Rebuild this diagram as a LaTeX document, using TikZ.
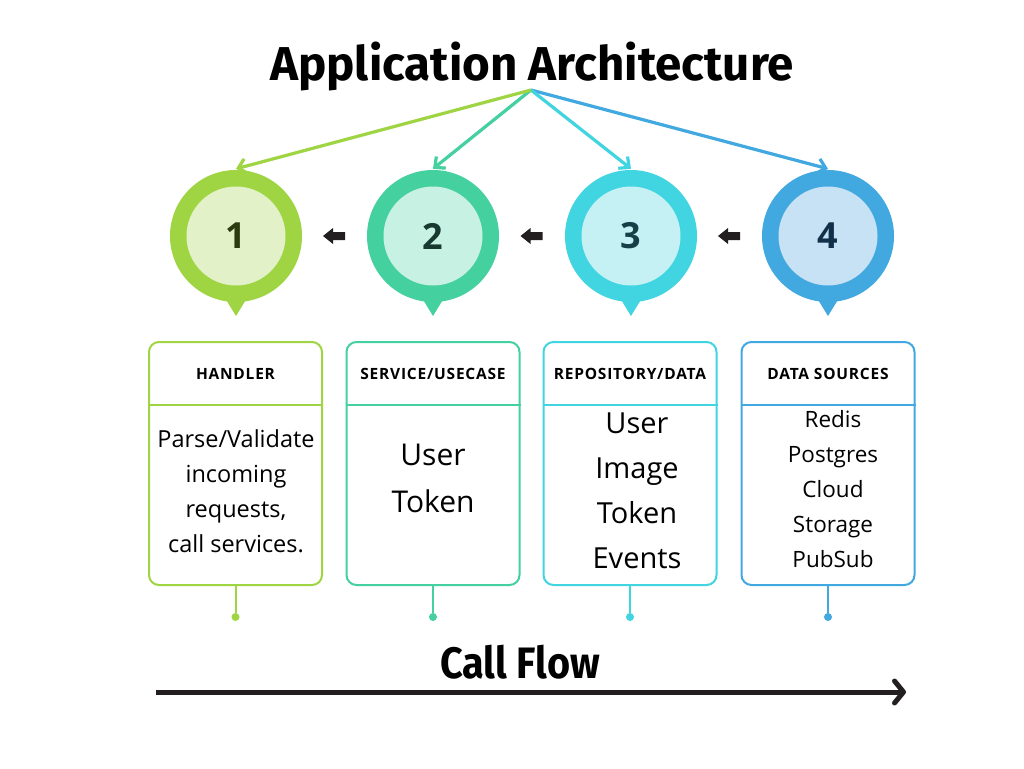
\documentclass[tikz,border=0pt]{standalone}
\usepackage{fontspec}
\setmainfont{Open Sans}
\newfontfamily\titlefont{Fira Sans}
\newfontfamily\flowfont[FakeStretch=0.9]{Fira Sans}
\newfontfamily\hdrfont[LetterSpace=5]{Open Sans}
\usetikzlibrary{arrows.meta,calc}
\definecolor{o1}{HTML}{9FD443}\definecolor{i1}{HTML}{E2F1C7}\definecolor{n1}{HTML}{2B3B0E}
\definecolor{o2}{HTML}{45D0A0}\definecolor{i2}{HTML}{C7F1E3}\definecolor{n2}{HTML}{17392F}
\definecolor{o3}{HTML}{41D4E1}\definecolor{i3}{HTML}{C6F1F4}\definecolor{n3}{HTML}{163F47}
\definecolor{o4}{HTML}{42A8E0}\definecolor{i4}{HTML}{C7E2F4}\definecolor{n4}{HTML}{12304A}
\definecolor{ink}{HTML}{231F20}
\tikzset{
  outerc/.style={circle, fill=#1, minimum size=132pt, inner sep=0pt},
  innerc/.style={circle, fill=#1, minimum size=99pt, inner sep=0pt, font=\bfseries\fontsize{36}{36}\selectfont},
  boxc/.style={draw=#1, line width=2pt, rounded corners=10pt, minimum width=173pt, minimum height=243pt, inner sep=0pt},
  hdr/.style={font=\hdrfont\bfseries\fontsize{15.5}{15.5}\selectfont, text=black},
  fan/.style={draw=#1, line width=3.2pt, -{Straight Barb[length=8pt,width=15pt]}},
  stem/.style={draw=#1, line width=2pt},
  dotc/.style={circle, fill=#1, minimum size=8pt, inner sep=0pt},
  bodytxt/.style={anchor=base, align=center}
}
\begin{document}
\begin{tikzpicture}[x=1pt,y=-1pt]
\useasboundingbox[fill=white] (0,0) rectangle (1024,768);
% title
\node[anchor=base, font=\titlefont\bfseries\fontsize{47.5}{48}\selectfont] (title) at (532,80) {Application Architecture};
\coordinate (apex) at (531,90);
% circles
\foreach \i/\x in {1/236,2/433,3/631,4/828}{
  \fill[o\i] (\x-11,298) -- (\x+11,298) -- (\x,316) -- cycle;
  \node[outerc=o\i] (c\i) at (\x,236) {};
  \node[innerc=i\i, text=n\i] (k\i) at (c\i) {\i};
}
% fan arrows
\foreach \i in {4,3,2,1}{
  \draw[fan=o\i] (apex) -- ([yshift=1pt]c\i.north);
}
% black block arrows
\foreach \a/\b in {1/2,2/3,3/4}{
  \fill[ink] ($(c\a)!0.5!(c\b)$) ++(-11.5,0) -- ++(10,-8) -- ++(0,4) -- ++(12,0) -- ++(0,8) -- ++(-12,0) -- ++(0,4) -- cycle;
}
% boxes
\foreach \i/\x in {1/235.5,2/433,3/630,4/828}{
  \node[boxc=o\i] (b\i) at (\x,463.5) {};
  \draw[o\i, line width=1.6pt] ([yshift=-64pt]b\i.north west) -- ([yshift=-64pt]b\i.north east);
  \node[dotc=o\i] (d\i) at (\x,617) {};
  \draw[stem=o\i] (b\i.south) -- (d\i);
}
\node[hdr] (h1) at ($(b1.north)+(0,33)$) {HANDLER};
\node[hdr] (h2) at ($(b2.north)+(0,33)$) {SERVICE/USECASE};
\node[hdr] (h3) at ($(b3.north)+(0,33)$) {REPOSITORY/DATA};
\node[hdr] (h4) at ($(b4.north)+(0,33)$) {DATA SOURCES};
% body texts (anchor base = last line)
\node[bodytxt, font=\fontsize{23.5}{35}\selectfont] (t1) at (236,552) {Parse/Validate\\incoming\\requests,\\call services.};
\node[bodytxt, font=\fontsize{30}{47}\selectfont] (t2) at (433,512) {User\\Token};
\node[bodytxt, font=\fontsize{29}{45}\selectfont] (t3) at (637,568) {User\\Image\\Token\\Events};
\node[bodytxt, font=\fontsize{22.5}{35}\selectfont] (t4) at (833,567) {Redis\\Postgres\\Cloud\\Storage\\PubSub};
% call flow
\node[anchor=base, font=\flowfont\bfseries\fontsize{44}{44}\selectfont] (cf) at (520,678) {Call Flow};
\coordinate (cfs) at (156,692);
\coordinate (cfe) at (906,692);
\draw[ink, line width=5pt, -{Straight Barb[length=9pt,width=22pt,line cap=round,line join=round]}] (cfs) -- (cfe);
\end{tikzpicture}
\end{document}
